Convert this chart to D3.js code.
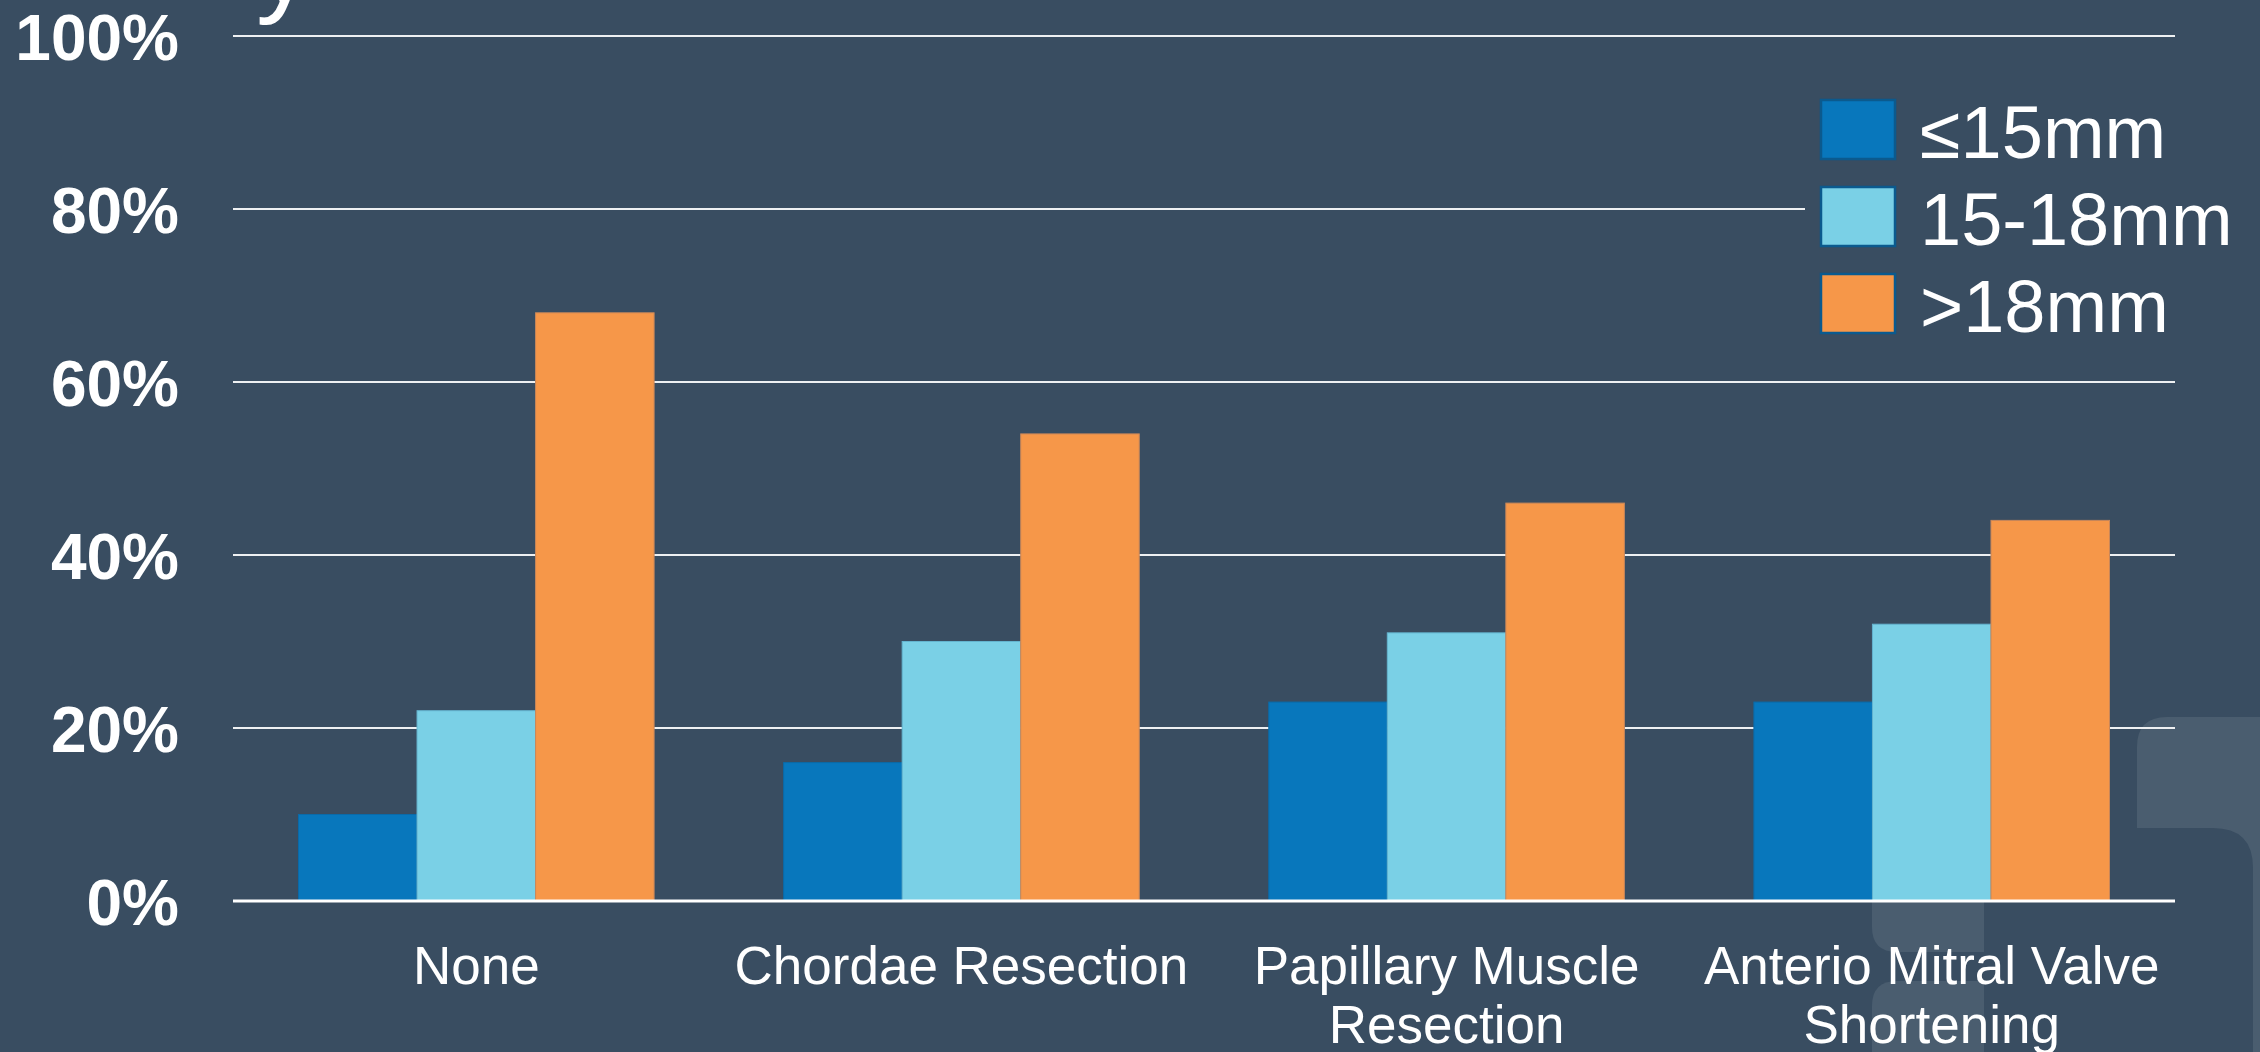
<!DOCTYPE html>
<html>
<head>
<meta charset="utf-8">
<script src="https://cdn.jsdelivr.net/npm/d3@7/dist/d3.min.js"></script>
<style>
  html, body { margin: 0; padding: 0; background: #394d61; overflow: hidden; }
  svg { display: block; }
  text { font-family: "Liberation Sans", Arial, sans-serif; }
</style>
</head>
<body>
<svg id="chart" width="2260" height="1052"></svg>
<script>
// ---- data ----
const categories = [["None"], ["Chordae Resection"], ["Papillary Muscle", "Resection"], ["Anterio Mitral Valve", "Shortening"]];
const seriesNames = ["≤15mm", "15-18mm", ">18mm"];
const seriesColors = ["#0877bc", "#7ad0e6", "#f69749"];
const valuesLE15 = [0.10, 0.16, 0.23, 0.23];
const values15to18 = [0.22, 0.30, 0.31, 0.32];
const valuesGT18 = [0.68, 0.54, 0.46, 0.44];
const yTicks = [0, 0.2, 0.4, 0.6, 0.8, 1.0];
const yTickLabels = ["0%", "20%", "40%", "60%", "80%", "100%"];

const seriesValues = [valuesLE15, values15to18, valuesGT18];
const catKeys = categories.map(c => c.join(" "));

const svg = d3.select("#chart");
const W = 2260, H = 1052;

svg.append("rect").attr("width", W).attr("height", H).attr("fill", "#394d61");

// watermark shapes (background decoration)
const wm = "#4a5d6f";
svg.append("path").attr("fill", wm)
  .attr("d", "M2137,747 Q2137,717 2167,717 L2270,717 L2270,1060 L2253,1060 L2253,868 Q2253,828 2213,828 L2137,828 Z");
svg.append("path").attr("fill", wm)
  .attr("d", "M1872,850 L1984,850 L1984,952 L1897,952 Q1872,952 1872,927 Z");
svg.append("path").attr("fill", wm)
  .attr("d", "M1872,1006 Q1872,981 1897,981 L1984,981 L1984,1060 L1872,1060 Z");

// title fragment (cut off at top)
svg.append("text").attr("x", 256).attr("y", 2)
  .attr("font-size", 112).attr("fill", "#ffffff").text("y");

// scales
const x0 = d3.scaleBand().domain(catKeys).range([233, 2175]).paddingInner(0.267).paddingOuter(0.135);
const x1 = d3.scaleBand().domain(seriesNames).range([0, x0.bandwidth()]).padding(0);
const y = d3.scaleLinear().domain([0, 1]).range([901, 36]);

// gridlines
svg.append("g").selectAll("line").data(yTicks.filter(t => t > 0)).join("line")
  .attr("x1", 233).attr("x2", 2175)
  .attr("y1", d => y(d)).attr("y2", d => y(d))
  .attr("stroke", "#eef0f2").attr("stroke-width", 2);

// y axis labels
const yAxis = d3.axisLeft(y).tickValues(yTicks).tickFormat((d, i) => yTickLabels[i]).tickSize(0).tickPadding(0);
const gy = svg.append("g").attr("transform", "translate(179,0)").call(yAxis);
gy.select(".domain").remove();
gy.selectAll("text").attr("font-size", 64).attr("font-weight", "bold").attr("fill", "#ffffff")
  .attr("font-family", "'Liberation Sans', Arial, sans-serif").attr("dy", "0.36em");

// bars
const groups = svg.append("g").selectAll("g").data(catKeys).join("g")
  .attr("transform", d => `translate(${x0(d)},0)`);
groups.selectAll("rect").data((d, i) => seriesNames.map((s, j) => ({ s, j, v: seriesValues[j][i] }))).join("rect")
  .attr("x", d => x1(d.s))
  .attr("y", d => y(d.v))
  .attr("width", x1.bandwidth())
  .attr("height", d => y(0) - y(d.v))
  .attr("fill", d => seriesColors[d.j])
  .attr("stroke", d => ["#0a6aa8", "#64b4cf", "#c8875a"][d.j])
  .attr("stroke-width", 1);

// baseline
svg.append("line").attr("x1", 233).attr("x2", 2175).attr("y1", y(0)).attr("y2", y(0))
  .attr("stroke", "#ffffff").attr("stroke-width", 3);

// x axis labels
const xl = svg.append("g").selectAll("text").data(categories).join("text")
  .attr("x", (d, i) => x0(catKeys[i]) + x0.bandwidth() / 2)
  .attr("y", 984)
  .attr("text-anchor", "middle")
  .attr("font-size", 53)
  .attr("fill", "#ffffff");
xl.selectAll("tspan").data(d => d).join("tspan")
  .attr("x", function () { return d3.select(this.parentNode).attr("x"); })
  .attr("dy", (d, i) => i === 0 ? 0 : 59)
  .text(d => d);

// legend
const lg = svg.append("g");
lg.append("rect").attr("x", 1805).attr("y", 80).attr("width", 380).attr("height", 270).attr("fill", "#394d61");
const li = lg.selectAll("g").data(seriesNames).join("g")
  .attr("transform", (d, i) => `translate(1821,${100 + i * 87})`);
li.append("rect").attr("width", 74).attr("height", 59)
  .attr("fill", (d, i) => seriesColors[i]).attr("stroke", "#0b5a8e").attr("stroke-width", 2.5);
li.append("text").attr("x", 99).attr("y", 58).attr("font-size", 74).attr("fill", "#ffffff").text(d => d);
</script>
</body>
</html>
